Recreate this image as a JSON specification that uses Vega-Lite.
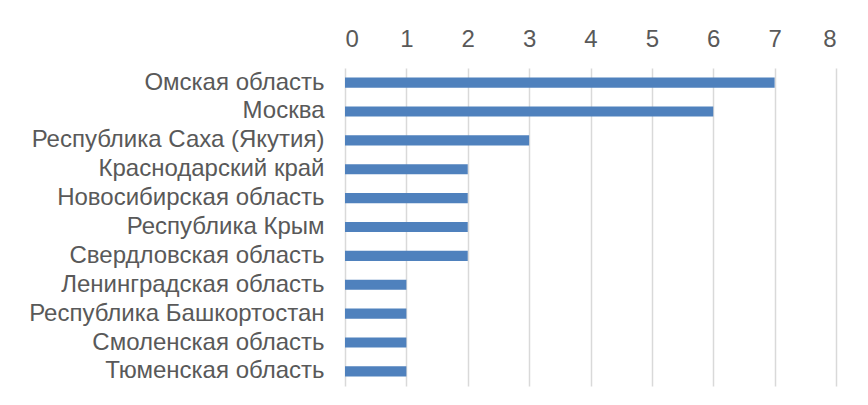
{
  "$schema": "https://vega.github.io/schema/vega-lite/v6.json",
  "autosize": "none",
  "width": 491,
  "height": 318,
  "padding": {"left": 345, "top": 68, "right": 32, "bottom": 19},
  "background": "white",
  "data": {"values": [
    {"region": "Омская область", "value": 7},
    {"region": "Москва", "value": 6},
    {"region": "Республика Саха (Якутия)", "value": 3},
    {"region": "Краснодарский край", "value": 2},
    {"region": "Новосибирская область", "value": 2},
    {"region": "Республика Крым", "value": 2},
    {"region": "Свердловская область", "value": 2},
    {"region": "Ленинградская область", "value": 1},
    {"region": "Республика Башкортостан", "value": 1},
    {"region": "Смоленская область", "value": 1},
    {"region": "Тюменская область", "value": 1}
  ]},
  "mark": {"type": "bar", "color": "#4f81bd"},
  "encoding": {
    "y": {"field": "region", "type": "nominal", "sort": null,
      "scale": {"paddingInner": 0.65, "paddingOuter": 0.33},
      "axis": {"title": null, "ticks": false, "domain": false, "labelFont": "Arial", "labelFontSize": 24, "labelColor": "#595959", "labelPadding": 21, "labelLimit": 400}},
    "x": {"field": "value", "type": "quantitative",
      "scale": {"domain": [0, 8], "nice": false},
      "axis": {"orient": "top", "title": null, "values": [0,1,2,3,4,5,6,7,8], "ticks": false, "domain": false, "grid": true, "gridColor": "#d9d9d9", "gridWidth": 1.5, "labelFont": "Arial", "labelFontSize": 24, "labelColor": "#595959", "labelPadding": 17}}
  },
  "config": {"view": {"stroke": null}}
}
